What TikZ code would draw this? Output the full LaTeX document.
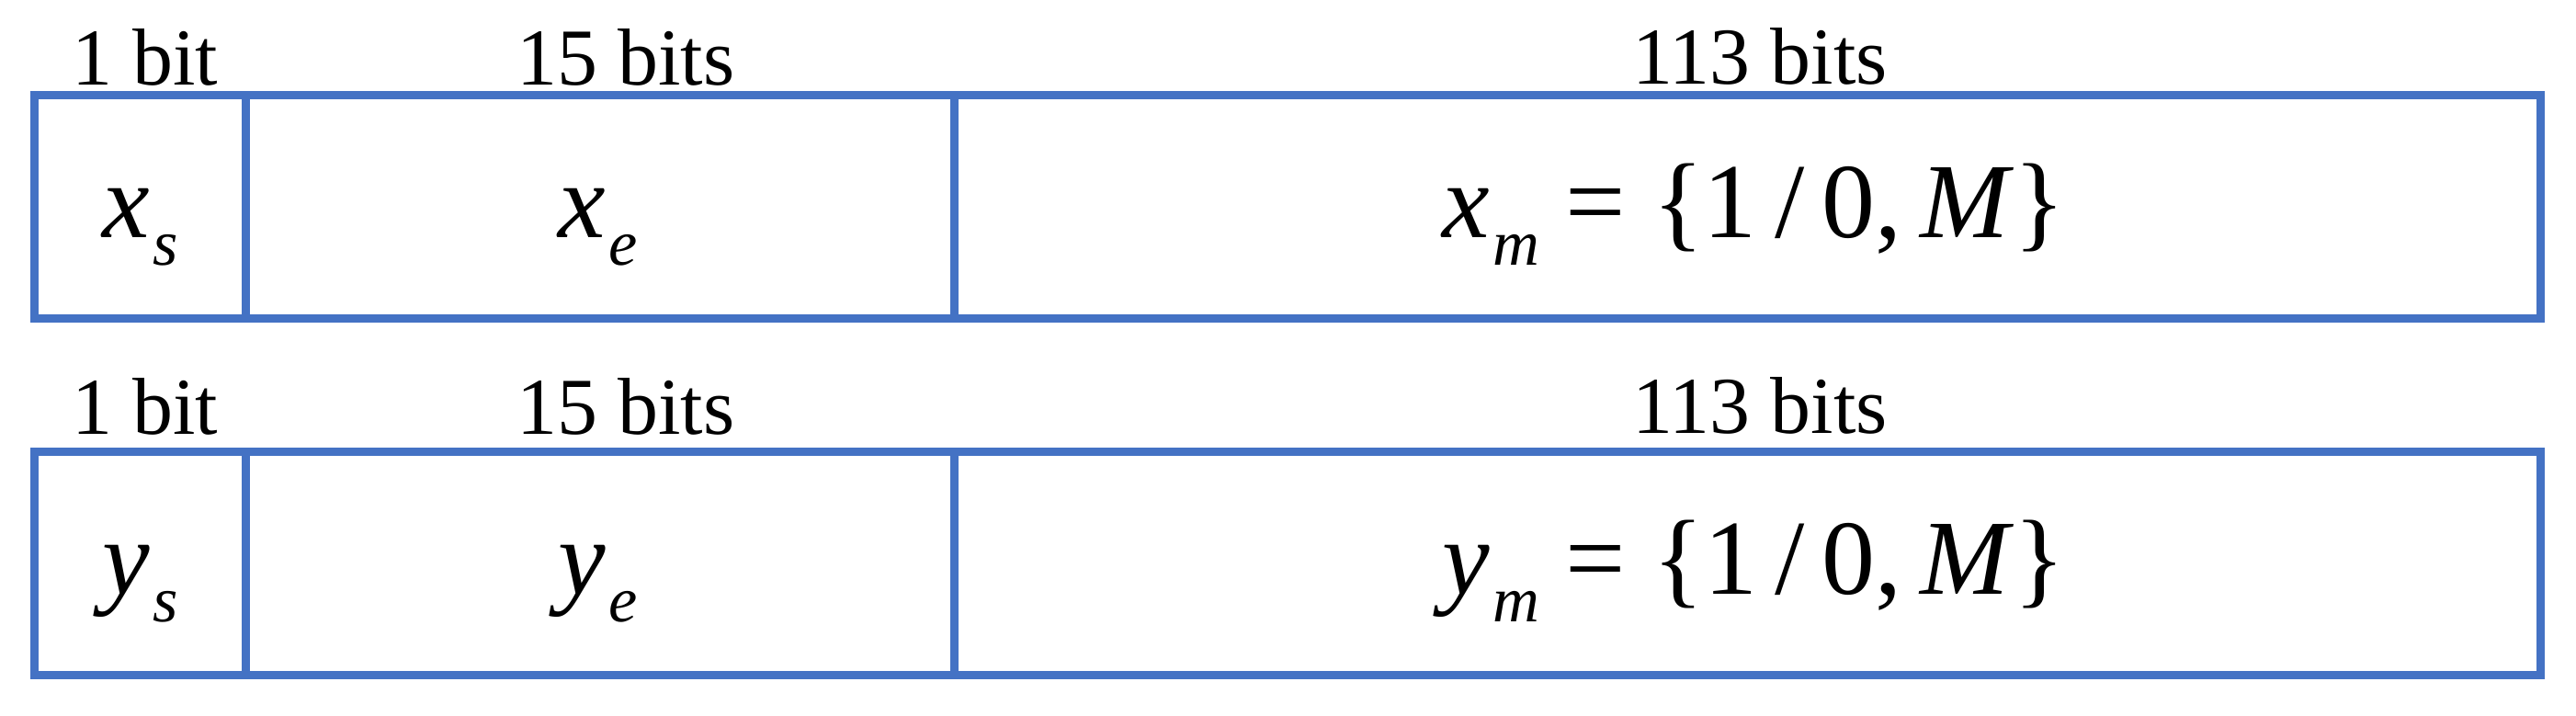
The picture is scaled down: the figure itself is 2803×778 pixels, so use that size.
\documentclass[tikz,border=0pt]{standalone}
\usepackage{fontspec}
\setmainfont{Liberation Serif}
\usetikzlibrary{positioning}
\definecolor{fieldblue}{HTML}{4472C4}
\newcommand{\fieldvar}[2]{\textit{#1}\kern0.03em\raisebox{-0.3cm}{\fontsize{20}{20}\selectfont\textit{#2}}}
\tikzset{
    field/.style ={rectangle, draw=fieldblue, line width=0.09cm, minimum height=2.43cm, inner sep=0pt, outer sep=0pt},
    bitcount/.style ={anchor=base, inner sep=0pt, font=\fontsize{25}{25}\selectfont},
    fieldtext/.style ={anchor=base, inner sep=0pt, font=\fontsize{33}{33}\selectfont}
}
\begin{document}
\begin{tikzpicture}[x=0.01cm,y=-0.01cm]
\useasboundingbox (0,0) rectangle (2803,778);
\foreach \v/\yy/\ly in {x/0/92, y/388/472}
{
\node [field, minimum width=2.30cm] (\v-sign) at (152.5,225+\yy) {};
\node [field, minimum width=7.71cm] (\v-exp) at (653,225+\yy) {};
\node [field, minimum width=17.255cm] (\v-man) at (1901.25,225+\yy) {};
\node [bitcount] (\v-signbits) at (157.5,\ly) {1 bit};
\node [bitcount] (\v-expbits) at (681,\ly) {15 bits};
\node [bitcount] (\v-manbits) at (1915,\ly-1) {113 bits};
\node [fieldtext] (\v-signtext) at (152.5,258+\yy) {\fieldvar{\v}{s}};
\node [fieldtext] (\v-exptext) at (651,258+\yy) {\fieldvar{\v}{e}};
\node [fieldtext] (\v-mantext) at (1908,258+\yy) {\fieldvar{\v}{m}\ =\ \{1\,/\,0,\,\textit{M}\}};
}
\end{tikzpicture}
\end{document}
